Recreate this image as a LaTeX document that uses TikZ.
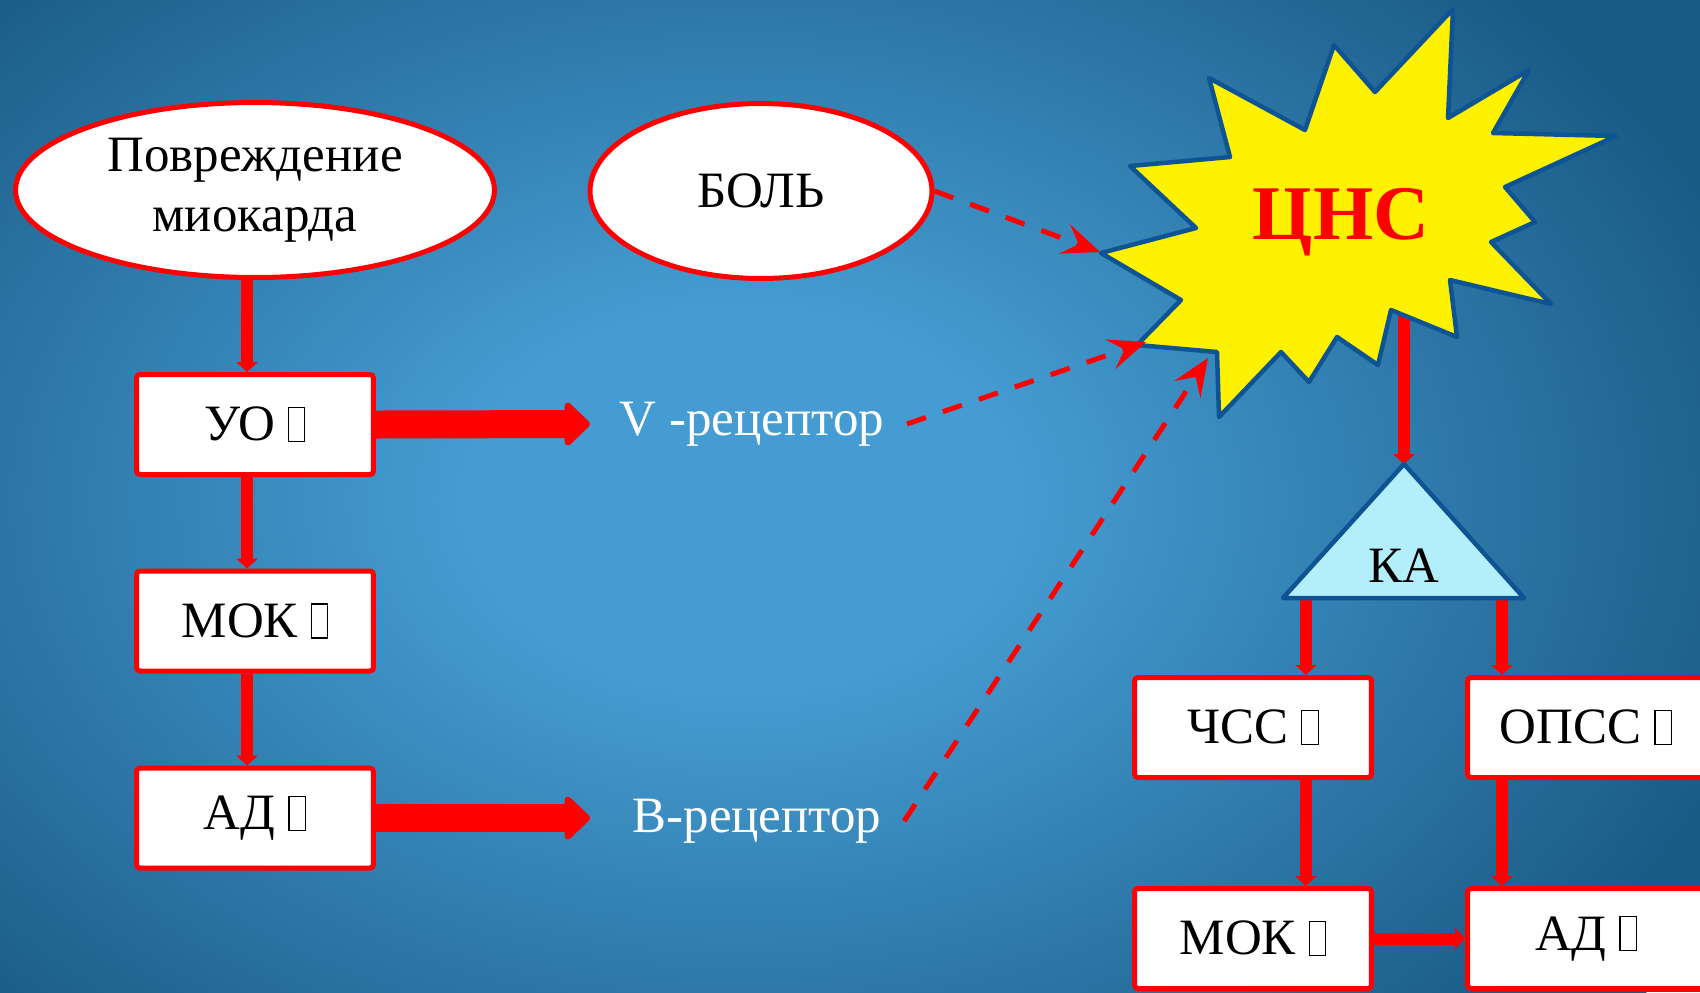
\documentclass[tikz,border=0pt]{standalone}
\usepackage{fontspec}
\setmainfont{Liberation Serif}
\usetikzlibrary{arrows.meta, positioning, calc, shapes.geometric}

\definecolor{bglight}{HTML}{459CD2}
\definecolor{bgdark}{HTML}{1A5B86}
\definecolor{burstblue}{HTML}{0E5494}
\definecolor{kafill}{HTML}{B3EEFB}
\pgfdeclareradialshading{bgshade}{\pgfpoint{0bp}{0bp}}{color(0bp)=(bglight); color(6bp)=(bglight); color(23bp)=(bgdark); color(50bp)=(bgdark)}

\newcommand{\bigtext}{\fontsize{29}{34}\selectfont}
\newcommand{\tofu}{{\setlength{\fboxsep}{0pt}\setlength{\fboxrule}{0.7pt}\fbox{\rule{0pt}{0.64em}\hspace{0.3em}}}}

\tikzset{
  oval/.style={ellipse, draw=red, line width=0.1cm, fill=white, minimum width=9.58cm, minimum height=3.5cm, inner sep=0pt, align=center, font=\bigtext},
  box/.style={draw=red, line width=0.1cm, fill=white, rounded corners=2pt, minimum width=4.74cm, minimum height=2.0cm, font=\bigtext},
  rec/.style={text=white, font=\bigtext, inner xsep=0.45cm},
  link/.style={red, line width=0.24cm, -{Triangle[length=0.2cm, width=0.42cm]}},
  fat/.style={red, line width=0.56cm, -{Triangle[length=0.54cm, width=1.0cm, round]}},
  dasharrow/.style={red, line width=0.1cm, dash pattern=on 0.4cm off 0.36cm, -{Stealth[length=0.75cm, width=0.62cm, inset=0.3cm]}}
}

\begin{document}
\begin{tikzpicture}[x=0.02cm, y=-0.02cm]
    \useasboundingbox (0,0) rectangle (1700,992);
    \clip (0,0) rectangle (1700,992);
    \fill[bgdark] (0,0) rectangle (1700,992);
    \shade[shading=bgshade] (740,500) ellipse [x radius=1150, y radius=800];

    % left column
    \node[oval] (damage) at (255,190) {Повреждение\\миокарда};
    \node[oval, minimum width=6.84cm] (pain) at (761,191) {БОЛЬ};
    \node[box] (uo) at (255,424.5) {УО \tofu};
    \node[box] (mok) at (255,621) {МОК \tofu};
    \node[box] (ad) at (255,818) {АД \tofu};

    \draw[link] ([xshift=-0.16cm]damage.south) -- ([xshift=-0.16cm]uo.north);
    \draw[link] ([xshift=-0.16cm]uo.south) -- ([xshift=-0.16cm]mok.north);
    \draw[link] ([xshift=-0.16cm]mok.south) -- ([xshift=-0.16cm]ad.north);

    % receptors
    \node[rec] (vrec) at (752,424) {V -рецептор};
    \node[rec] (brec) at (757,821) {B-рецептор};
    \coordinate (vtip) at (590,424);
    \draw[fat] (uo.east) -- (vtip);
    \draw[fat] (ad.east) -- (ad.east -| vtip);

    % CNS burst and catecholamines
    \coordinate (cnsfoot) at (1404,300);
    \coordinate (kaTop) at (1404,464);
    \coordinate (kaL) at (1283,598);
    \coordinate (kaR) at (1524,598);
    \coordinate (leg1) at ($(kaL)!0.095!(kaR)$);
    \coordinate (leg2) at ($(kaL)!0.909!(kaR)$);
    \coordinate (tipL) at (1100,252);
    \coordinate (tipV) at (1146,342);
    \coordinate (tipB) at (1208,358);

    \draw[link] (cnsfoot) -- (kaTop);
    \draw[burstblue, line width=0.09cm, line join=round, fill=yellow]
        (1453,9) -- (1448,118) -- (1529,70) -- (1493,133) -- (1616,136) -- (1505,187)
        -- (1535,222) -- (1491,242) -- (1551,304) -- (1450,280) -- (1457,337) -- (1391,310)
        -- (1378,365) -- (1337,337) -- (1309,382) -- (1281,352) -- (1219,417) -- (1217,352)
        -- (1137,345) -- (1181,300) -- (1101,253) -- (1196,228) -- (1130,166) -- (1230,157)
        -- (1209,78) -- (1305,130) -- (1334,45) -- (1375,92) -- cycle;
    \node[text=red, font=\fontsize{44}{50}\selectfont\bfseries] (cns) at (1341,222) {ЦНС};

    \node[box] (chss) at (1253,727.5) {ЧСС \tofu};
    \node[box] (opss) at (1586,727.5) {ОПСС \tofu};
    \node[box] (mok2) at (1253,938.5) {МОК \tofu};
    \node[box] (ad2) at (1586,938.5) {АД \tofu};

    \draw[link] (leg1) -- (leg1 |- chss.north);
    \draw[link] (leg2) -- (leg2 |- opss.north);
    \draw[link] (leg1 |- chss.south) -- (leg1 |- mok2.north);
    \draw[link] (leg2 |- opss.south) -- (leg2 |- ad2.north);
    \draw[link] (mok2.east) -- (ad2.west);

    \draw[burstblue, line width=0.09cm, line join=round, fill=kafill] (kaTop) -- (kaR) -- (kaL) -- cycle;
    \node[font=\bigtext] (ka) at (1404,566) {КА};

    % dashed signals to the CNS
    \draw[dasharrow] (pain.east) -- (tipL);
    \draw[dasharrow] (vrec.east) -- (tipV);
    \draw[dasharrow] (brec.east) -- (tipB);
\end{tikzpicture}
\end{document}
